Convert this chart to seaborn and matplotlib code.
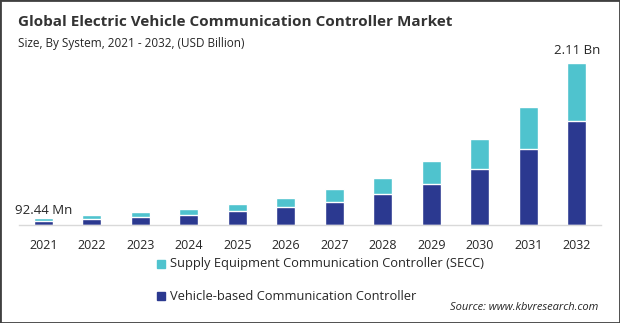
import matplotlib
matplotlib.use("Agg")
import matplotlib.pyplot as plt
from matplotlib.patches import Rectangle
import seaborn as sns
import pandas as pd

years = ["2021", "2022", "2023", "2024", "2025", "2026",
         "2027", "2028", "2029", "2030", "2031", "2032"]
vehicle_based = [0.052, 0.074, 0.100, 0.126, 0.178, 0.230,
                 0.300, 0.404, 0.534, 0.730, 0.990, 1.355]
secc = [0.0404, 0.052, 0.065, 0.078, 0.092, 0.118,
        0.169, 0.208, 0.299, 0.390, 0.546, 0.755]
first_label = "92.44 Mn"
last_label = "2.11 Bn"

DARK = "#2B3990"
LIGHT = "#4FC3CE"

sns.set_theme(style="white")
plt.rcParams["font.family"] = ["Open Sans", "DejaVu Sans"]

df = pd.DataFrame({"year": years, "vehicle": vehicle_based, "secc": secc})
df["total"] = df["vehicle"] + df["secc"]

fig = plt.figure(figsize=(6.2, 3.23), dpi=100)
ax = fig.add_axes([19 / 620, (323 - 225) / 323, 582 / 620, 175 / 323])

sns.barplot(data=df, x="year", y="total", color=LIGHT, width=0.4,
            saturation=1, ax=ax)
sns.barplot(data=df, x="year", y="vehicle", color=DARK, width=0.4,
            saturation=1, ax=ax)

ax.set_xlim(-0.5, len(years) - 0.5)
ax.set_ylim(0, 2.28)
ax.set_xlabel("")
ax.set_ylabel("")
ax.set_yticks([])
for side in ["top", "right", "left"]:
    ax.spines[side].set_visible(False)
ax.spines["bottom"].set_color("#D9D9D9")
ax.spines["bottom"].set_linewidth(1.0)
ax.tick_params(axis="x", length=0, pad=10, labelsize=9, colors="#262626")

ax.annotate(first_label, (0, df["total"].iloc[0]), xytext=(0, 1),
            textcoords="offset points", ha="center", va="bottom",
            fontsize=9.5, color="#262626")
ax.annotate(last_label, (len(years) - 1, df["total"].iloc[-1]), xytext=(0, 4),
            textcoords="offset points", ha="center", va="bottom",
            fontsize=9.5, color="#262626")

fig.text(18 / 620, 1 - 22 / 323, "Global Electric Vehicle Communication Controller Market",
         fontsize=11, fontweight="bold", color="#333333", va="center")
fig.text(18 / 620, 1 - 44 / 323, "Size, By System, 2021 - 2032, (USD Billion)",
         fontsize=8.5, color="#262626", va="center")

# legend rows
for y_px, col, label in [(264, LIGHT, "Supply Equipment Communication Controller (SECC)"),
                         (296, DARK, "Vehicle-based Communication Controller")]:
    fig.patches.append(Rectangle((157 / 620, 1 - (y_px + 4) / 323), 8 / 620, 8 / 323,
                                 transform=fig.transFigure, color=col))
    fig.text(170 / 620, 1 - y_px / 323, label, fontsize=9.3, color="#262626", va="center")

fig.text(598 / 620, 1 - 307 / 323, "Source: www.kbvresearch.com", fontsize=8,
         style="italic", color="#262626", ha="right", va="center")

fig.patches.append(Rectangle((0, 0), 1, 1, transform=fig.transFigure, fill=False,
                             edgecolor="#404040", linewidth=2))

fig.savefig("out.png", dpi=100)
